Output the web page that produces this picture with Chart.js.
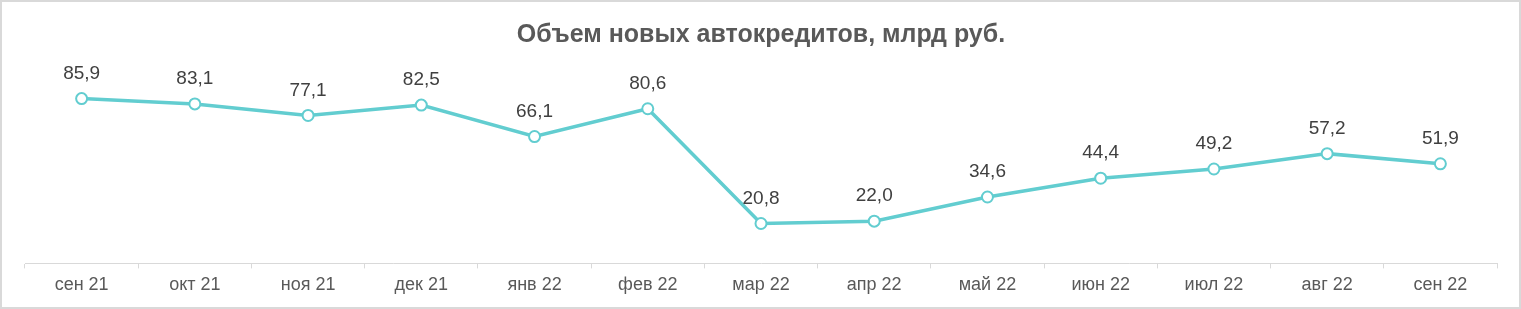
<!DOCTYPE html>
<html>
<head>
<meta charset="utf-8">
<script src="https://cdn.jsdelivr.net/npm/chart.js@4"></script>
<style>
  body { margin: 0; background: #fff; }
  #wrap { width: 1521px; height: 309px; position: relative; }
</style>
</head>
<body>
<div id="wrap"><canvas id="chart" width="1521" height="309"></canvas></div>
<script>
const months = ["сен 21", "окт 21", "ноя 21", "дек 21", "янв 22", "фев 22", "мар 22",
  "апр 22", "май 22", "июн 22", "июл 22", "авг 22", "сен 22"];
const volumes = [85.9, 83.1, 77.1, 82.5, 66.1, 80.6, 20.8, 22.0, 34.6, 44.4, 49.2, 57.2, 51.9];

const lineColor = "#62cdd0";
const fontFam = "'Liberation Sans', Arial, sans-serif";

// labels above each point, numbers with a comma
const pointLabels = {
  id: "pointLabels",
  afterDatasetsDraw(chart) {
    const ctx = chart.ctx;
    const meta = chart.getDatasetMeta(0);
    ctx.save();
    ctx.font = "19px " + fontFam;
    ctx.fillStyle = "#404040";
    ctx.textAlign = "center";
    ctx.textBaseline = "middle";
    meta.data.forEach((pt, i) => {
      const txt = volumes[i].toFixed(1).replace(".", ",");
      ctx.fillText(txt, pt.x, pt.y - 25);
    });
    ctx.restore();
  }
};

const frame = {
  id: "frame",
  beforeDraw(chart) {
    const ctx = chart.ctx;
    ctx.save();
    ctx.fillStyle = "#fff";
    ctx.fillRect(0, 0, chart.width, chart.height);
    ctx.strokeStyle = "#d9d9d9";
    ctx.lineWidth = 2;
    ctx.strokeRect(1, 1, chart.width - 2, chart.height - 2);
    ctx.restore();
  }
};

new Chart(document.getElementById("chart"), {
  type: "line",
  data: {
    labels: months,
    datasets: [{
      data: volumes,
      borderColor: lineColor,
      borderWidth: 3.5,
      pointRadius: 5.5,
      pointBorderWidth: 2,
      pointBackgroundColor: "#fff",
      pointBorderColor: lineColor,
      tension: 0
    }]
  },
  options: {
    responsive: false,
    animation: false,
    layout: { padding: { left: 25, right: 24, top: 0, bottom: 7 } },
    plugins: {
      legend: { display: false },
      tooltip: { enabled: false },
      title: {
        display: true,
        text: "Объем новых автокредитов, млрд руб.",
        color: "#595959",
        font: { family: fontFam, size: 25, weight: "bold" },
        padding: { top: 20, bottom: 21.5 }
      }
    },
    scales: {
      x: {
        offset: true,
        grid: {
          offset: true,
          drawOnChartArea: false,
          drawTicks: true,
          tickLength: 5,
          color: "#d9d9d9"
        },
        border: { color: "#d9d9d9", width: 1 },
        ticks: {
          color: "#595959",
          padding: 6,
          font: { family: fontFam, size: 18 }
        }
      },
      y: { display: false, min: 0, max: 100 }
    }
  },
  plugins: [frame, pointLabels]
});
</script>
</body>
</html>
